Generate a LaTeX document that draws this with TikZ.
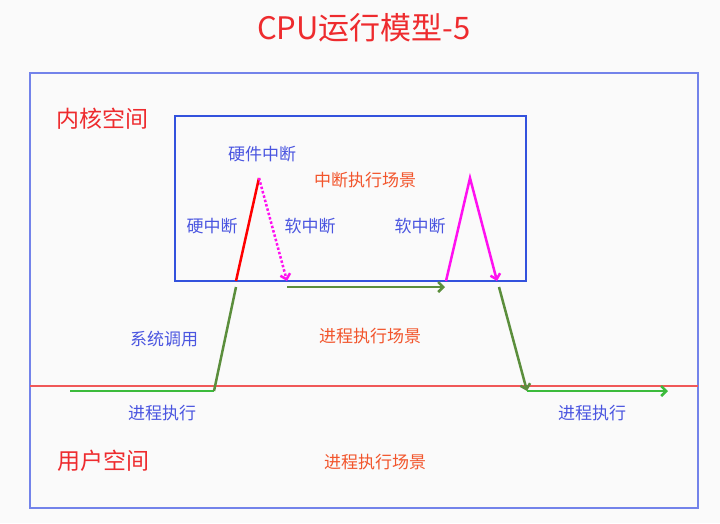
\documentclass[tikz,border=0pt]{standalone}
\usepackage{fontspec}
\setmainfont{Noto Sans CJK SC}
\usetikzlibrary{arrows.meta}

\definecolor{TitleRed}{HTML}{EE2B2E}
\definecolor{LabelBlue}{HTML}{4A55E0}
\definecolor{SceneOrange}{HTML}{F2552C}
\definecolor{OuterBlue}{HTML}{7383EA}
\definecolor{InnerBlue}{HTML}{3352DD}
\definecolor{LineRed}{HTML}{F05858}
\definecolor{RunGreen}{HTML}{3CBB3C}
\definecolor{CallGreen}{HTML}{5B8E3C}
\definecolor{SoftMagenta}{HTML}{FF10F0}

\tikzset{
	label_blue/.style={text=LabelBlue, font=\fontsize{17}{20}\selectfont},
	label_scene/.style={text=SceneOrange, font=\fontsize{17}{20}\selectfont},
	label_space/.style={text=TitleRed, font=\fontsize{23}{27}\selectfont},
}

\begin{document}
\begin{tikzpicture}[>={Straight Barb[length=5pt, width=10pt]}, x=1pt, y=-1pt, inner sep=0pt]
			\fill[white!98!black] (0,0) rectangle (720,523);
			\useasboundingbox (0,0) rectangle (720,523);
			
			\node[text=TitleRed, font=\fontsize{31}{36}\selectfont] (title) at (364,28) {CPU运行模型-5};
			
			\draw[OuterBlue, line width=1.5pt] (30,73) rectangle (698,508);
			\draw[InnerBlue, line width=1.8pt] (175,116) rectangle (526,281);
			\draw[LineRed, line width=1.2pt] (30,386) -- (698,386);
			
			\node[label_space] (kernel) at (102,119) {内核空间};
			\node[label_space] (user) at (103,461) {用户空间};
			
			\node[label_blue] (hw_irq) at (262,154) {硬件中断};
			\node[label_scene] (irq_scene) at (365,180) {中断执行场景};
			\node[label_blue] (hard) at (212,226) {硬中断};
			\node[label_blue] (soft1) at (310,226) {软中断};
			\node[label_blue] (soft2) at (420,226) {软中断};
			\node[label_blue] (syscall) at (164,339) {系统调用};
			\node[label_scene] (proc_scene1) at (370,336) {进程执行场景};
			\node[label_blue] (run1) at (162,413) {进程执行};
			\node[label_blue] (run2) at (592,413) {进程执行};
			\node[label_scene] (proc_scene2) at (375,462) {进程执行场景};
			
			\coordinate (us_start) at (70,391);
			\coordinate (us_up) at (214,391);
			\coordinate (k_enter) at (236,287);
			\coordinate (hw_base) at (236,281);
			\coordinate (hw_top) at (259,178);
			\coordinate (sw_end) at (287,281);
			\coordinate (p_start) at (287,287);
			\coordinate (p_end) at (445,287);
			\coordinate (sw2_base) at (446,281);
			\coordinate (sw2_top) at (470,178);
			\coordinate (sw2_end) at (497,281);
			\coordinate (k_exit) at (499,287);
			\coordinate (us_back) at (527,391);
			\coordinate (us_end) at (668,391);
			
			\draw[RunGreen, line width=2.5pt](us_start) -- (us_up);
			\draw[CallGreen, line width=2.5pt](us_up) -- (k_enter);
			\draw[red, line width=2.5pt](hw_base) -- (hw_top);
			\draw[->, SoftMagenta, dotted, line width=2.5pt](hw_top) -- (sw_end);
			\draw[->, CallGreen, line width=2.5pt](p_start) -- (p_end);
			\draw[->, SoftMagenta, line width=2.5pt](sw2_base) -- (sw2_top) -- (sw2_end);
			\draw[->, CallGreen, line width=2.5pt](k_exit) -- (us_back);
			\draw[->, RunGreen, line width=2.5pt](us_back) -- (us_end);
		\end{tikzpicture}
\end{document}
